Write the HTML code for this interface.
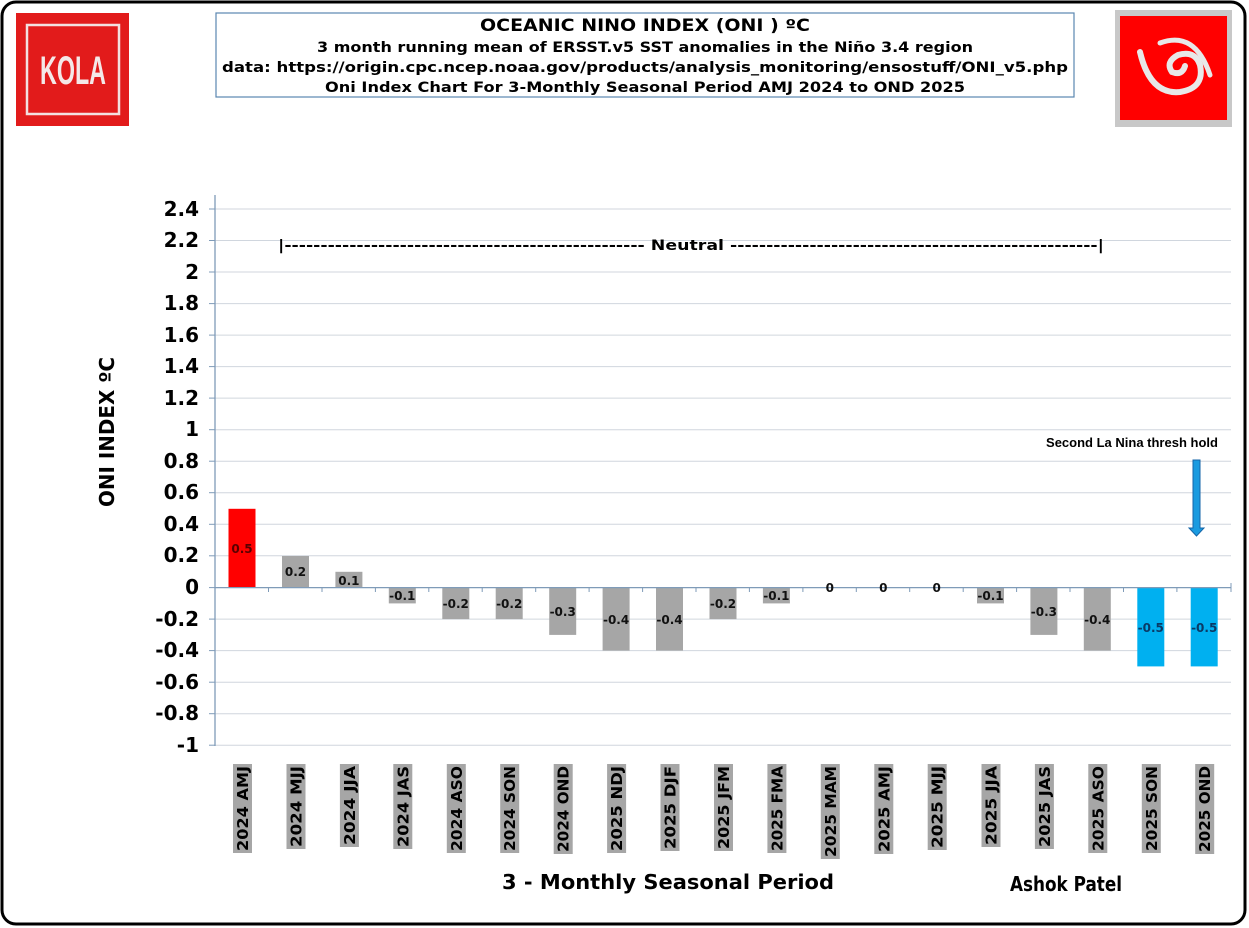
<!DOCTYPE html>
<html><head><meta charset="utf-8"><style>
html,body{margin:0;padding:0;background:#fff;}
svg{display:block;font-family:"DejaVu Sans","Liberation Sans",sans-serif;}
</style></head><body>
<svg width="1249" height="928" viewBox="0 0 1249 928" xmlns="http://www.w3.org/2000/svg">
<rect x="2" y="2" width="1243" height="922" rx="14" fill="#fff" stroke="#000" stroke-width="3"/>
<!-- KOLA logo -->
<rect x="16" y="13" width="113" height="113" fill="#e21b1b"/>
<rect x="27" y="25" width="92" height="89" fill="none" stroke="#f3e0e0" stroke-width="2.5"/>
<text x="73" y="84" text-anchor="middle" font-family="Liberation Sans,sans-serif" font-weight="bold" font-size="40" fill="#f4e8e8" textLength="66" lengthAdjust="spacingAndGlyphs">KOLA</text>
<!-- right logo -->
<rect x="1115" y="10" width="117" height="117" fill="#c8c8c8"/>
<rect x="1120" y="16" width="107" height="104" fill="#f00"/>
<g fill="none" stroke="#e8e8e8" stroke-linecap="round">
<path d="M1140 52 Q1150 95 1180 92 Q1205 88 1200 65 Q1195 50 1178 55 Q1165 62 1172 72 Q1182 76 1185 66" stroke-width="6"/>
<path d="M1160 43 Q1195 30 1210 75" stroke-width="5"/>
</g>
<!-- title box -->
<rect x="216" y="13" width="858" height="84" fill="#fff" stroke="#5b87b0" stroke-width="1.2"/>
<g font-weight="bold" fill="#000" text-anchor="middle">
<text x="645" y="31" font-size="16.5" textLength="330" lengthAdjust="spacingAndGlyphs">OCEANIC NINO INDEX (ONI ) ºC</text>
<text x="645" y="52" font-size="14" textLength="656" lengthAdjust="spacingAndGlyphs">3 month running mean of ERSST.v5 SST anomalies in the Niño 3.4 region</text>
<text x="645" y="72" font-size="14" textLength="846" lengthAdjust="spacingAndGlyphs">data: https://origin.cpc.ncep.noaa.gov/products/analysis_monitoring/ensostuff/ONI_v5.php</text>
<text x="645" y="92" font-size="14" textLength="640" lengthAdjust="spacingAndGlyphs">Oni Index Chart For 3-Monthly Seasonal Period AMJ 2024 to OND 2025</text>
</g>
<!-- grid -->
<g stroke="#d0d6de" stroke-width="1">
<line x1="215" x2="1231" y1="209" y2="209"/><line x1="215" x2="1231" y1="240.5" y2="240.5"/>
<line x1="215" x2="1231" y1="272" y2="272"/><line x1="215" x2="1231" y1="303.6" y2="303.6"/>
<line x1="215" x2="1231" y1="335.1" y2="335.1"/><line x1="215" x2="1231" y1="366.6" y2="366.6"/>
<line x1="215" x2="1231" y1="398.1" y2="398.1"/><line x1="215" x2="1231" y1="429.7" y2="429.7"/>
<line x1="215" x2="1231" y1="461.2" y2="461.2"/><line x1="215" x2="1231" y1="492.7" y2="492.7"/>
<line x1="215" x2="1231" y1="524.3" y2="524.3"/><line x1="215" x2="1231" y1="555.8" y2="555.8"/>
<line x1="215" x2="1231" y1="619.1" y2="619.1"/><line x1="215" x2="1231" y1="650.6" y2="650.6"/>
<line x1="215" x2="1231" y1="682.2" y2="682.2"/><line x1="215" x2="1231" y1="713.7" y2="713.7"/>
<line x1="215" x2="1231" y1="745.2" y2="745.2"/>
</g>
<!-- y axis -->
<line x1="215" y1="195" x2="215" y2="746" stroke="#7f9bb8" stroke-width="1.3"/>
<g stroke="#7f9bb8"><line x1="209" x2="215" y1="209" y2="209"/><line x1="209" x2="215" y1="240.5" y2="240.5"/><line x1="209" x2="215" y1="272" y2="272"/><line x1="209" x2="215" y1="303.6" y2="303.6"/><line x1="209" x2="215" y1="335.1" y2="335.1"/><line x1="209" x2="215" y1="366.6" y2="366.6"/><line x1="209" x2="215" y1="398.1" y2="398.1"/><line x1="209" x2="215" y1="429.7" y2="429.7"/><line x1="209" x2="215" y1="461.2" y2="461.2"/><line x1="209" x2="215" y1="492.7" y2="492.7"/><line x1="209" x2="215" y1="524.3" y2="524.3"/><line x1="209" x2="215" y1="555.8" y2="555.8"/><line x1="209" x2="215" y1="587.6" y2="587.6"/><line x1="209" x2="215" y1="619.1" y2="619.1"/><line x1="209" x2="215" y1="650.6" y2="650.6"/><line x1="209" x2="215" y1="682.2" y2="682.2"/><line x1="209" x2="215" y1="713.7" y2="713.7"/><line x1="209" x2="215" y1="745.2" y2="745.2"/></g>
<g font-weight="bold" font-size="20" text-anchor="end" fill="#000">
<text x="199" y="216">2.4</text><text x="199" y="247">2.2</text><text x="199" y="279">2</text><text x="199" y="310">1.8</text><text x="199" y="342">1.6</text><text x="199" y="373">1.4</text><text x="199" y="405">1.2</text><text x="199" y="436">1</text><text x="199" y="468">0.8</text><text x="199" y="499">0.6</text><text x="199" y="531">0.4</text><text x="199" y="562">0.2</text><text x="199" y="594">0</text><text x="199" y="626">-0.2</text><text x="199" y="657">-0.4</text><text x="199" y="689">-0.6</text><text x="199" y="720">-0.8</text><text x="199" y="752">-1</text>
</g>
<!-- bars -->
<g>
<rect x="228.5" y="508.8" width="27" height="78.8" fill="#f00"/>
<rect x="282" y="556" width="27" height="31.6" fill="#a6a6a6"/>
<rect x="335.4" y="571.8" width="27" height="15.8" fill="#a6a6a6"/>
<rect x="388.8" y="587.6" width="27" height="15.8" fill="#a6a6a6"/>
<rect x="442.3" y="587.6" width="27" height="31.5" fill="#a6a6a6"/>
<rect x="495.7" y="587.6" width="27" height="31.5" fill="#a6a6a6"/>
<rect x="549.2" y="587.6" width="27" height="47.3" fill="#a6a6a6"/>
<rect x="602.6" y="587.6" width="27" height="63" fill="#a6a6a6"/>
<rect x="656" y="587.6" width="27" height="63" fill="#a6a6a6"/>
<rect x="709.5" y="587.6" width="27" height="31.5" fill="#a6a6a6"/>
<rect x="762.9" y="587.6" width="27" height="15.8" fill="#a6a6a6"/>
<rect x="977" y="587.6" width="27" height="15.8" fill="#a6a6a6"/>
<rect x="1030.4" y="587.6" width="27" height="47.3" fill="#a6a6a6"/>
<rect x="1083.8" y="587.6" width="27" height="63" fill="#a6a6a6"/>
<rect x="1137.3" y="587.6" width="27" height="78.8" fill="#00b0f0"/>
<rect x="1190.7" y="587.6" width="27" height="78.8" fill="#00b0f0"/>
</g>
<!-- x axis -->
<line x1="215" y1="587.6" x2="1231" y2="587.6" stroke="#7f9bb8" stroke-width="1.3"/>
<g stroke="#7f9bb8">
<line x1="268.5" x2="268.5" y1="587.6" y2="592"/><line x1="322" x2="322" y1="587.6" y2="592"/><line x1="375.4" x2="375.4" y1="587.6" y2="592"/><line x1="428.8" x2="428.8" y1="587.6" y2="592"/><line x1="482.2" x2="482.2" y1="587.6" y2="592"/><line x1="535.7" x2="535.7" y1="587.6" y2="592"/><line x1="589.1" x2="589.1" y1="587.6" y2="592"/><line x1="642.6" x2="642.6" y1="587.6" y2="592"/><line x1="696" x2="696" y1="587.6" y2="592"/><line x1="749.4" x2="749.4" y1="587.6" y2="592"/><line x1="802.9" x2="802.9" y1="587.6" y2="592"/><line x1="856.3" x2="856.3" y1="587.6" y2="592"/><line x1="909.7" x2="909.7" y1="587.6" y2="592"/><line x1="963.2" x2="963.2" y1="587.6" y2="592"/><line x1="1016.6" x2="1016.6" y1="587.6" y2="592"/><line x1="1070" x2="1070" y1="587.6" y2="592"/><line x1="1123.5" x2="1123.5" y1="587.6" y2="592"/><line x1="1176.9" x2="1176.9" y1="587.6" y2="592"/><line x1="1231" x2="1231" y1="583" y2="592"/>
</g>
<!-- value labels -->
<g font-weight="bold" font-size="12" text-anchor="middle" fill="#111">
<text x="242" y="553" fill="#5a0000">0.5</text><text x="295.5" y="576">0.2</text><text x="348.9" y="585">0.1</text><text x="402.3" y="600">-0.1</text><text x="455.8" y="608">-0.2</text><text x="509.2" y="608">-0.2</text><text x="562.7" y="616">-0.3</text><text x="616.1" y="624">-0.4</text><text x="669.5" y="624">-0.4</text><text x="723" y="608">-0.2</text><text x="776.4" y="600">-0.1</text><text x="829.8" y="592">0</text><text x="883.3" y="592">0</text><text x="936.7" y="592">0</text><text x="990.5" y="600">-0.1</text><text x="1043.9" y="616">-0.3</text><text x="1097.3" y="624">-0.4</text><text x="1150.8" y="632" fill="#0a3a66">-0.5</text><text x="1204.2" y="632" fill="#0a3a66">-0.5</text>
</g>
<!-- category labels -->
<g font-weight="bold" font-size="15" fill="#000">
<g transform="translate(242,765) rotate(-90)"><rect x="-88" y="-9" width="89" height="19" fill="#a6a6a6"/><text x="-1" y="6" text-anchor="end" textLength="85" lengthAdjust="spacingAndGlyphs">2024 AMJ</text></g>
<g transform="translate(295.5,765) rotate(-90)"><rect x="-84" y="-9" width="85" height="19" fill="#a6a6a6"/><text x="-1" y="6" text-anchor="end" textLength="81" lengthAdjust="spacingAndGlyphs">2024 MJJ</text></g>
<g transform="translate(348.9,765) rotate(-90)"><rect x="-82" y="-9" width="83" height="19" fill="#a6a6a6"/><text x="-1" y="6" text-anchor="end" textLength="79" lengthAdjust="spacingAndGlyphs">2024 JJA</text></g>
<g transform="translate(402.3,765) rotate(-90)"><rect x="-84" y="-9" width="85" height="19" fill="#a6a6a6"/><text x="-1" y="6" text-anchor="end" textLength="81" lengthAdjust="spacingAndGlyphs">2024 JAS</text></g>
<g transform="translate(455.8,765) rotate(-90)"><rect x="-88" y="-9" width="89" height="19" fill="#a6a6a6"/><text x="-1" y="6" text-anchor="end" textLength="85" lengthAdjust="spacingAndGlyphs">2024 ASO</text></g>
<g transform="translate(509.2,765) rotate(-90)"><rect x="-88" y="-9" width="89" height="19" fill="#a6a6a6"/><text x="-1" y="6" text-anchor="end" textLength="85" lengthAdjust="spacingAndGlyphs">2024 SON</text></g>
<g transform="translate(562.7,765) rotate(-90)"><rect x="-89" y="-9" width="90" height="19" fill="#a6a6a6"/><text x="-1" y="6" text-anchor="end" textLength="86" lengthAdjust="spacingAndGlyphs">2024 OND</text></g>
<g transform="translate(616.1,765) rotate(-90)"><rect x="-88" y="-9" width="89" height="19" fill="#a6a6a6"/><text x="-1" y="6" text-anchor="end" textLength="85" lengthAdjust="spacingAndGlyphs">2025 NDJ</text></g>
<g transform="translate(669.5,765) rotate(-90)"><rect x="-86" y="-9" width="87" height="19" fill="#a6a6a6"/><text x="-1" y="6" text-anchor="end" textLength="83" lengthAdjust="spacingAndGlyphs">2025 DJF</text></g>
<g transform="translate(723,765) rotate(-90)"><rect x="-86" y="-9" width="87" height="19" fill="#a6a6a6"/><text x="-1" y="6" text-anchor="end" textLength="83" lengthAdjust="spacingAndGlyphs">2025 JFM</text></g>
<g transform="translate(776.4,765) rotate(-90)"><rect x="-88" y="-9" width="89" height="19" fill="#a6a6a6"/><text x="-1" y="6" text-anchor="end" textLength="85" lengthAdjust="spacingAndGlyphs">2025 FMA</text></g>
<g transform="translate(829.8,765) rotate(-90)"><rect x="-94" y="-9" width="95" height="19" fill="#a6a6a6"/><text x="-1" y="6" text-anchor="end" textLength="91" lengthAdjust="spacingAndGlyphs">2025 MAM</text></g>
<g transform="translate(883.3,765) rotate(-90)"><rect x="-89" y="-9" width="90" height="19" fill="#a6a6a6"/><text x="-1" y="6" text-anchor="end" textLength="86" lengthAdjust="spacingAndGlyphs">2025 AMJ</text></g>
<g transform="translate(936.7,765) rotate(-90)"><rect x="-85" y="-9" width="86" height="19" fill="#a6a6a6"/><text x="-1" y="6" text-anchor="end" textLength="82" lengthAdjust="spacingAndGlyphs">2025 MJJ</text></g>
<g transform="translate(990.5,765) rotate(-90)"><rect x="-82" y="-9" width="83" height="19" fill="#a6a6a6"/><text x="-1" y="6" text-anchor="end" textLength="79" lengthAdjust="spacingAndGlyphs">2025 JJA</text></g>
<g transform="translate(1043.9,765) rotate(-90)"><rect x="-84" y="-9" width="85" height="19" fill="#a6a6a6"/><text x="-1" y="6" text-anchor="end" textLength="81" lengthAdjust="spacingAndGlyphs">2025 JAS</text></g>
<g transform="translate(1097.3,765) rotate(-90)"><rect x="-88" y="-9" width="89" height="19" fill="#a6a6a6"/><text x="-1" y="6" text-anchor="end" textLength="85" lengthAdjust="spacingAndGlyphs">2025 ASO</text></g>
<g transform="translate(1150.8,765) rotate(-90)"><rect x="-88" y="-9" width="89" height="19" fill="#a6a6a6"/><text x="-1" y="6" text-anchor="end" textLength="85" lengthAdjust="spacingAndGlyphs">2025 SON</text></g>
<g transform="translate(1204.2,765) rotate(-90)"><rect x="-89" y="-9" width="90" height="19" fill="#a6a6a6"/><text x="-1" y="6" text-anchor="end" textLength="86" lengthAdjust="spacingAndGlyphs">2025 OND</text></g>
</g>
<!-- neutral -->
<text x="691" y="250" text-anchor="middle" font-weight="bold" font-size="14" textLength="826" lengthAdjust="spacingAndGlyphs">|-------------------------------------------------- Neutral ---------------------------------------------------|</text>
<!-- threshold -->
<text x="1132" y="447" text-anchor="middle" font-family="Liberation Sans,sans-serif" font-weight="bold" font-size="13">Second La Nina thresh hold</text>
<path d="M1193 460 H1200 V528 H1204 L1196.5 536 L1189 528 H1193 Z" fill="#1a9be0" stroke="#1565a8" stroke-width="1"/>
<!-- axis titles -->
<text transform="translate(114,432) rotate(-90)" text-anchor="middle" font-weight="bold" font-size="20" textLength="150" lengthAdjust="spacingAndGlyphs">ONI INDEX ºC</text>
<text x="668" y="889" text-anchor="middle" font-weight="bold" font-size="20" textLength="332" lengthAdjust="spacingAndGlyphs">3 - Monthly Seasonal Period</text>
<text x="1066" y="891" text-anchor="middle" font-weight="bold" font-size="20" textLength="112" lengthAdjust="spacingAndGlyphs">Ashok Patel</text>
</svg>
</body></html>
